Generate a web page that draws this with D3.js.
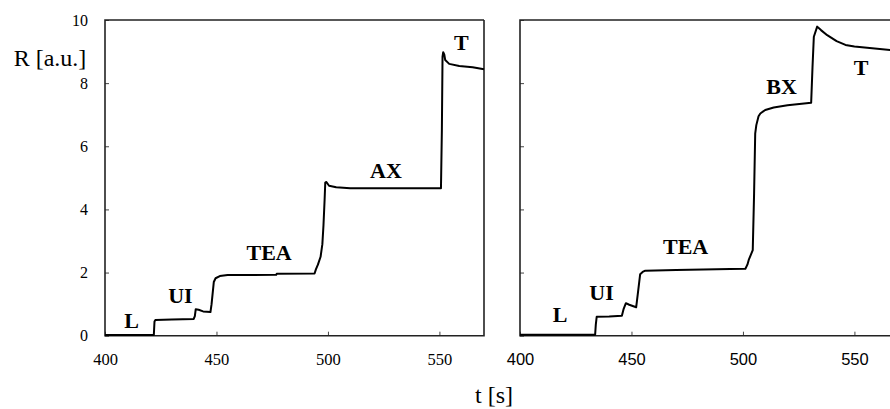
<!DOCTYPE html>
<html>
<head>
<meta charset="utf-8">
<script src="https://cdnjs.cloudflare.com/ajax/libs/d3/7.8.5/d3.min.js"></script>
<style>
  body { margin: 0; background: #fff; }
  svg { display: block; }
  .frame { stroke: #222; stroke-width: 1.6; fill: none; }
  .curve { stroke: #000; stroke-width: 2; fill: none; stroke-linejoin: round; }
  .tag { font-family: "Liberation Serif", "Times New Roman", serif; font-weight: bold; font-size: 22px; }
</style>
</head>
<body>
<div class="graph_wrapper"></div>
<script>
// time axis ticks and response ticks
var tTicks = [400, 450, 500, 550];
var rTicks = [0, 2, 4, 6, 8, 10];

// left panel: L, UI, TEA, AX, T
var leftT = [400, 421.9, 422.2, 422.6, 430, 439.8, 440.3, 440.7, 442, 444, 447.3, 447.8, 448.8, 449.6, 451.5, 455,
  476.8, 477, 494, 494.6, 495.5, 496.7, 497.5, 498, 498.5, 498.8, 499.3, 500.5, 503.7, 510, 550.7,
  551.1, 551.4, 551.7, 552.2, 552.6, 554.4, 558.9, 564.9, 570];
var leftR = [0.02, 0.02, 0.45, 0.50, 0.51, 0.53, 0.62, 0.84, 0.82, 0.77, 0.75, 1.0, 1.70, 1.82, 1.89, 1.92,
  1.93, 1.96, 1.97, 2.10, 2.25, 2.5, 2.9, 3.5, 4.3, 4.85, 4.87, 4.75, 4.70, 4.67, 4.67,
  6.5, 8.84, 8.98, 8.90, 8.73, 8.61, 8.54, 8.50, 8.44];

// right panel: L, UI, TEA, BX, T
var rightT = [400, 433.7, 434.0, 434.4, 440, 445.7, 446.5, 447.5, 449, 452.1, 452.8, 453.9, 455, 456.2, 470,
  494.3, 501.1, 502.0, 502.6, 504.4, 505.0, 505.5, 506, 507, 507.8, 510, 513.8, 520, 530.6,
  531.2, 531.8, 533.3, 535, 537.8, 542, 546, 550, 555.7, 566.2, 572];
var rightR = [0.03, 0.03, 0.35, 0.60, 0.61, 0.63, 0.85, 1.03, 0.98, 0.90, 1.3, 1.95, 2.02, 2.06, 2.08,
  2.11, 2.12, 2.25, 2.40, 2.71, 4.5, 6.4, 6.67, 6.95, 7.04, 7.15, 7.23, 7.30, 7.38,
  8.5, 9.47, 9.79, 9.68, 9.52, 9.33, 9.21, 9.16, 9.12, 9.05, 9.02];

// step labels, anchored in data coordinates (t, R)
var leftTags = ['L', 'UI', 'TEA', 'AX', 'T'];
var leftTagT = [411.9, 433.8, 473.6, 526, 559.8];
var leftTagR = [0.24, 1.04, 2.40, 5.0, 9.05];
var rightTags = ['L', 'UI', 'TEA', 'BX', 'T'];
var rightTagT = [418, 436.6, 474.3, 517.3, 553];
var rightTagR = [0.43, 1.13, 2.59, 7.66, 8.26];

var width = 890;
var height = 409;
var plotTop = 20, plotBottom = 335.7;
var panelWidth = 379;

var svg = d3.select('.graph_wrapper').append('svg')
  .attr('width', width).attr('height', height);

var y = d3.scaleLinear().domain([0, 10]).range([plotBottom, plotTop]);

function panel(x0, ts, rs, tags, tagT, tagR, opts) {
  var x = d3.scaleLinear().domain([400, 570]).range([x0, x0 + panelWidth]);
  var g = svg.append('g');

  var xAxis = d3.axisBottom(x).tickValues(tTicks).tickSize(-4).tickPadding(17.5);
  var gx = g.append('g').attr('transform', 'translate(0,' + plotBottom + ')').call(xAxis);
  gx.select('.domain').remove();
  gx.selectAll('line').attr('stroke', '#444');
  gx.selectAll('text').attr('fill', '#000')
    .style('font-family', opts.tickFont).style('font-size', '16.5px');

  var yAxis = d3.axisLeft(y).tickValues(rTicks).tickSize(-4).tickPadding(17);
  if (!opts.yLabels) yAxis.tickFormat('');
  var gy = g.append('g').attr('transform', 'translate(' + x0 + ',0)').call(yAxis);
  gy.select('.domain').remove();
  gy.selectAll('line').attr('stroke', '#444');
  gy.selectAll('text').attr('fill', '#000')
    .style('font-family', '"Liberation Serif", "Times New Roman", serif').style('font-size', '16px');

  var x1 = x0 + panelWidth;
  var frame = opts.closed
    ? [[x1, plotTop], [x0, plotTop], [x0, plotBottom], [x1, plotBottom], [x1, plotTop]]
    : [[x1 + 10, plotTop], [x0, plotTop], [x0, plotBottom], [x1 + 10, plotBottom]];
  g.append('path').attr('class', 'frame').attr('d', d3.line()(frame));

  var line = d3.line()
    .x(function (d, i) { return x(ts[i]); })
    .y(function (d) { return y(d); });
  g.append('path').attr('class', 'curve').attr('d', line(rs));

  g.selectAll('.tag').data(tags).enter().append('text')
    .attr('class', 'tag')
    .attr('text-anchor', 'middle')
    .attr('x', function (d, i) { return x(tagT[i]); })
    .attr('y', function (d, i) { return y(tagR[i]); })
    .text(function (d) { return d; });
}

panel(105, leftT, leftR, leftTags, leftTagT, leftTagR,
  { tickFont: '"Liberation Serif", "Times New Roman", serif', yLabels: true, closed: true });
panel(520, rightT, rightR, rightTags, rightTagT, rightTagR,
  { tickFont: '"Liberation Sans", Arial, sans-serif', yLabels: false, closed: false });

svg.append('text')
  .attr('x', 50).attr('y', 66)
  .attr('text-anchor', 'middle')
  .style('font-family', '"Liberation Serif", "Times New Roman", serif')
  .style('font-size', '24px')
  .text('R [a.u.]');

svg.append('text')
  .attr('x', 494).attr('y', 403)
  .attr('text-anchor', 'middle')
  .style('font-family', '"Liberation Serif", "Times New Roman", serif')
  .style('font-size', '24px')
  .text('t [s]');
</script>
</body>
</html>
